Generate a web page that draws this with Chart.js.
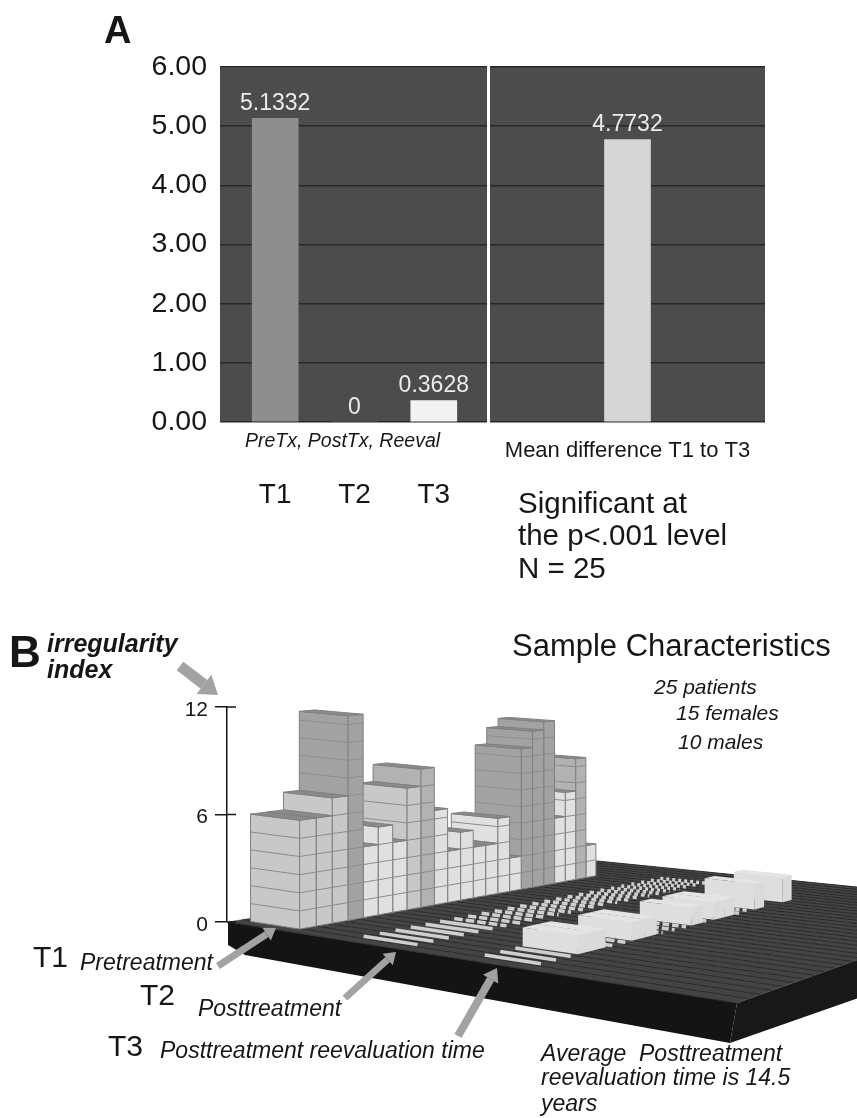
<!DOCTYPE html>
<html>
<head>
<meta charset="utf-8">
<title>Irregularity index</title>
<script src="https://cdn.jsdelivr.net/npm/chart.js@4"></script>
<style>
  html, body { margin: 0; padding: 0; background: #fff; }
  body { position: relative; width: 857px; height: 1118px; overflow: hidden; font-family: "Liberation Sans", Arial, sans-serif; color: #161616; }
  canvas { position: absolute; filter: blur(0.5px); }
  .t { position: absolute; white-space: nowrap; line-height: 1; }
  .i { font-style: italic; }
</style>
</head>
<body>
<div style="position:absolute;left:0;top:37px;width:487px;height:483px"><canvas id="chartA1"></canvas></div>
<div style="position:absolute;left:490px;top:40px;width:275px;height:480px"><canvas id="chartA2"></canvas></div>
<div style="position:absolute;left:0;top:600px;width:857px;height:518px"><canvas id="chartB"></canvas></div>

<div class="t" style="left:104px;top:11px;font-size:38px;font-weight:bold">A</div>
<div class="t i" style="left:245px;top:431px;font-size:19.5px">PreTx, PostTx, Reeval</div>
<div class="t" style="left:518px;top:488px;font-size:29.5px">Significant at</div>
<div class="t" style="left:518px;top:520px;font-size:29.5px">the p&lt;.001 level</div>
<div class="t" style="left:518px;top:553px;font-size:29.5px">N = 25</div>

<div class="t" style="left:9px;top:630px;font-size:44px;font-weight:bold">B</div>
<div class="t i" style="left:47px;top:630px;font-size:25px;font-weight:bold;line-height:26px">irregularity<br>index</div>
<div class="t" style="left:512px;top:630px;font-size:31px">Sample Characteristics</div>
<div class="t i" style="left:654px;top:676px;font-size:21px">25 patients</div>
<div class="t i" style="left:676px;top:702px;font-size:21px">15 females</div>
<div class="t i" style="left:678px;top:731px;font-size:21px">10 males</div>
<div class="t" style="left:33px;top:942px;font-size:30px">T1</div>
<div class="t i" style="left:80px;top:951px;font-size:23px">Pretreatment</div>
<div class="t" style="left:140px;top:980px;font-size:30px">T2</div>
<div class="t i" style="left:198px;top:997px;font-size:23px">Posttreatment</div>
<div class="t" style="left:108px;top:1031px;font-size:30px">T3</div>
<div class="t i" style="left:160px;top:1039px;font-size:23px">Posttreatment reevaluation time</div>
<div class="t i" style="left:541px;top:1042px;font-size:23px">Average&nbsp; Posttreatment</div>
<div class="t i" style="left:541px;top:1066px;font-size:23px">reevaluation time is 14.5</div>
<div class="t i" style="left:541px;top:1092px;font-size:23px">years</div>

<script>
// panel A
const timeLabels = ['T1', 'T2', 'T3'];
const timeValues = [5.1332, 0, 0.3628];
const diffLabels = ['Mean difference T1 to T3'];
const diffValues = [4.7732];
const yTicksA = [0, 1, 2, 3, 4, 5, 6];

const patients = [1, 2, 3, 4, 5, 6, 7, 8, 9, 10, 11, 12, 13, 14, 15, 16, 17, 18, 19, 20, 21, 22, 23, 24, 25];
const indexT1 = [6, 6, 7, 11.5, 4, 5, 4, 7, 8, 5.5, 3, 4, 3, 3, 4.5, 2, 8.5, 9.5, 10, 4, 5.5, 7.5, 2, 0, 0];
const indexT2 = [0, 0, 0, 0, 0, 0, 0, 0, 0, 0, 0, 0, 0, 0, 0, 0, 0, 0, 0, 0, 0, 0, 0, 0, 0];
const indexT3 = [0, 0, 0, 1, 1, 0, 0, 1, 1, 0, 0, 0, 1, 0, 1, 1, 0, 0, 1.5, 0, 0, 1.5, 0, 0, 0];
const yTicksB = [0, 6, 12];

const panelBg = {
  id: 'panelBg',
  beforeDraw(chart) {
    const a = chart.chartArea;
    chart.ctx.fillStyle = '#4c4c4c';
    chart.ctx.fillRect(a.left, a.top, a.width, a.height);
  }
};

const valueLabels = {
  id: 'valueLabels',
  afterDatasetsDraw(chart) {
    const ctx = chart.ctx;
    const ds = chart.data.datasets[0];
    ctx.save();
    ctx.font = '23px "Liberation Sans"';
    ctx.textAlign = 'center';
    ctx.textBaseline = 'bottom';
    ctx.fillStyle = '#ececec';
    chart.getDatasetMeta(0).data.forEach((bar, i) => {
      const v = ds.data[i].y !== undefined ? ds.data[i].y : ds.data[i];
      ctx.fillText(String(v), bar.x, bar.y - 3);
    });
    ctx.restore();
  }
};

function yAxisA(showLabels) {
  return {
    min: 0, max: 6,
    afterBuildTicks: s => { s.ticks = yTicksA.map(v => ({ value: v })); },
    afterFit: s => { s.width = showLabels ? 220 : 0; },
    border: { display: false },
    grid: { color: '#282828', lineWidth: 1.5, drawTicks: false },
    ticks: {
      display: showLabels,
      padding: 13,
      color: '#161616',
      font: { size: 28.5, family: '"Liberation Sans"' },
      callback: v => Number(v).toFixed(2)
    }
  };
}

new Chart(document.getElementById('chartA1'), {
  type: 'bar',
  data: {
    datasets: [{
      data: timeValues.map((v, i) => ({ x: i, y: v })),
      backgroundColor: ['#8e8e8e', '#8e8e8e', '#f2f2f2'],
      barThickness: 46
    }]
  },
  options: {
    animation: false,
    responsive: true,
    maintainAspectRatio: false,
    layout: { padding: { top: 30 } },
    plugins: { legend: { display: false }, tooltip: { enabled: false } },
    scales: {
      x: {
        type: 'linear', min: -0.696, max: 2.671,
        offset: false,
        afterBuildTicks: s => { s.ticks = timeLabels.map((l, i) => ({ value: i })); },
        afterFit: s => { s.height = 98; s.paddingLeft = 0; s.paddingRight = 0; },
        grid: { display: false },
        border: { display: false },
        ticks: {
          padding: 48,
          color: '#161616',
          maxRotation: 0,
          font: { size: 28, family: '"Liberation Sans"' },
          callback: v => timeLabels[v]
        }
      },
      y: yAxisA(true)
    }
  },
  plugins: [panelBg, valueLabels]
});

new Chart(document.getElementById('chartA2'), {
  type: 'bar',
  data: {
    labels: diffLabels,
    datasets: [{ data: diffValues, backgroundColor: '#d6d6d6', barThickness: 46 }]
  },
  options: {
    animation: false,
    responsive: true,
    maintainAspectRatio: false,
    layout: { padding: { top: 27 } },
    plugins: { legend: { display: false }, tooltip: { enabled: false } },
    scales: {
      x: {
        afterFit: s => { s.height = 98; },
        grid: { display: false },
        border: { display: false },
        ticks: {
          padding: 8,
          color: '#161616',
          maxRotation: 0,
          font: { size: 22, family: '"Liberation Sans"' }
        }
      },
      y: yAxisA(false)
    }
  },
  plugins: [panelBg, valueLabels]
});

// panel B: floor camera. Floor corners on the canvas, square to quad
const floorO = [228, 322], floorB = [597, 261], floorR = [1016, 303], floorF = [737, 403];
const camera = (() => {
  const [x0, y0] = floorO, [x1, y1] = floorB, [x2, y2] = floorR, [x3, y3] = floorF;
  const dx1 = x1 - x2, dx2 = x3 - x2, sx = x0 - x1 + x2 - x3;
  const dy1 = y1 - y2, dy2 = y3 - y2, sy = y0 - y1 + y2 - y3;
  const den = dx1 * dy2 - dx2 * dy1;
  const g = (sx * dy2 - dx2 * sy) / den, h = (dx1 * sy - sx * dy1) / den;
  return { a: x1 - x0 + g * x1, b: x3 - x0 + h * x3, c: x0, d: y1 - y0 + g * y1, e: y3 - y0 + h * y3, f: y0, g, h };
})();

const rowBands = [[0.025, 0.146], [0.276, 0.394], [0.532, 0.64]];

function project(chart, u, v, z) {
  const m = camera, w = m.g * u + m.h * v + 1;
  const yS = chart.scales.y;
  const lift = (yS.getPixelForValue(0) - yS.getPixelForValue(z)) / Math.sqrt(w);
  return [(m.a * u + m.b * v + m.c) / w, (m.d * u + m.e * v + m.f) / w - lift];
}

function poly(ctx, pts, fill, stroke) {
  ctx.beginPath();
  pts.forEach((p, i) => i ? ctx.lineTo(p[0], p[1]) : ctx.moveTo(p[0], p[1]));
  ctx.closePath();
  if (fill) { ctx.fillStyle = fill; ctx.fill(); }
  if (stroke) { ctx.strokeStyle = stroke; ctx.stroke(); }
}

function blockShade(z) {
  if (z > 8.2) return '#a2a2a2';
  if (z > 7.2) return '#b2b2b2';
  if (z > 5.8) return '#c8c8c8';
  return '#e0e0e0';
}

function drawFloor(chart) {
  const ctx = chart.ctx;
  const P = (u, v) => project(chart, u, v, 0);
  poly(ctx, [floorO, floorF, [730, 443], [245, 355], [228, 345]], '#141414');
  poly(ctx, [floorF, floorR, [1016, 343], [730, 443]], '#181818');
  poly(ctx, [floorO, floorB, floorR, floorF], '#444444');
  ctx.lineWidth = 1;
  ctx.strokeStyle = '#2a2a2a';
  for (let i = 0; i <= 34; i++) {
    const a = P(i / 34, 0), b = P(i / 34, 1);
    ctx.beginPath(); ctx.moveTo(a[0], a[1]); ctx.lineTo(b[0], b[1]); ctx.stroke();
  }
  ctx.strokeStyle = 'rgba(70,70,70,0.5)';
  for (let j = 0; j <= 50; j++) {
    const a = P(0, j / 50), b = P(1, j / 50);
    ctx.beginPath(); ctx.moveTo(a[0], a[1]); ctx.lineTo(b[0], b[1]); ctx.stroke();
  }
}

function drawBlock(chart, u0, u1, v0, v1, z, soft) {
  const ctx = chart.ctx;
  const P = (u, v, h) => project(chart, u, v, h);
  const base = blockShade(z);
  const edge = soft ? null : '#808080';
  ctx.lineWidth = 1;
  poly(ctx, [P(u0, v1, 0), P(u1, v1, 0), P(u1, v1, z), P(u0, v1, z)], soft ? '#dadada' : base, edge);
  poly(ctx, [P(u0, v0, 0), P(u0, v1, 0), P(u0, v1, z), P(u0, v0, z)], soft ? '#dedede' : base, edge);
  poly(ctx, [P(u0, v0, z), P(u0, v1, z), P(u1, v1, z), P(u1, v0, z)], soft ? '#e4e4e4' : '#8a8a8a', edge);
  if (soft) return;
  ctx.strokeStyle = '#8c8c8c';
  for (let h = 1; h < z; h++) {
    const a = P(u0, v0, h), b = P(u0, v1, h), c = P(u1, v1, h);
    ctx.beginPath(); ctx.moveTo(a[0], a[1]); ctx.lineTo(b[0], b[1]); ctx.lineTo(c[0], c[1]); ctx.stroke();
  }
}

function drawStrip(chart, u, v0, v1, back) {
  const ctx = chart.ctx;
  const a = project(chart, u, v0, 0), b = project(chart, u, v1, 0);
  ctx.save();
  ctx.strokeStyle = '#cfcfcf';
  ctx.lineWidth = 3.5;
  if (back > 0) ctx.setLineDash([Math.max(3, 9 - back * 0.4), 3]);
  ctx.beginPath(); ctx.moveTo(a[0], a[1]); ctx.lineTo(b[0], b[1]); ctx.stroke();
  ctx.restore();
}

function arrow(ctx, x0, y0, x1, y1, w) {
  const ang = Math.atan2(y1 - y0, x1 - x0);
  const hx = x1 - Math.cos(ang) * w * 1.6, hy = y1 - Math.sin(ang) * w * 1.6;
  ctx.save();
  ctx.strokeStyle = '#a2a2a2';
  ctx.fillStyle = '#a2a2a2';
  ctx.lineWidth = w;
  ctx.beginPath(); ctx.moveTo(x0, y0); ctx.lineTo(hx, hy); ctx.stroke();
  ctx.beginPath();
  ctx.moveTo(x1, y1);
  ctx.lineTo(hx - Math.sin(ang) * w * 1.1, hy + Math.cos(ang) * w * 1.1);
  ctx.lineTo(hx + Math.sin(ang) * w * 1.1, hy - Math.cos(ang) * w * 1.1);
  ctx.closePath();
  ctx.fill();
  ctx.restore();
}

const blocks3d = {
  id: 'blocks3d',
  beforeDatasetsDraw(chart) {
    const ctx = chart.ctx;
    const xS = chart.scales.x;
    const decU = p => (xS.getPixelForValue(p) - xS.left) / xS.width;
    ctx.save();
    drawFloor(chart);
    chart.data.datasets.forEach((ds, r) => {
      const [v0, v1] = rowBands[r];
      for (let i = ds.data.length - 1; i >= 0; i--) {
        const pt = ds.data[i];
        const u0 = decU(pt.x), u1 = decU(pt.x + 1);
        if (pt.y > 0) drawBlock(chart, u0, u1, v0, v1, pt.y, r === 2);
        else if (r === 1 || (r === 2 && i < 19)) drawStrip(chart, (u0 + u1) / 2, v0, v1, i - 5);
      }
    });
    // tick marks also cross to the right of the axis
    const yS = chart.scales.y;
    ctx.strokeStyle = '#161616';
    ctx.lineWidth = 1.5;
    yS.ticks.forEach(t => {
      const y = yS.getPixelForValue(t.value);
      ctx.beginPath(); ctx.moveTo(yS.right, y); ctx.lineTo(yS.right + 9, y); ctx.stroke();
    });
    ctx.restore();
  },
  afterDraw(chart) {
    const ctx = chart.ctx;
    arrow(ctx, 180, 66, 218, 95, 11);
    arrow(ctx, 218, 366, 276, 328, 7);
    arrow(ctx, 345, 398, 396, 352, 7);
    arrow(ctx, 458, 436, 497, 368, 8);
  }
};

new Chart(document.getElementById('chartB'), {
  type: 'scatter',
  data: {
    datasets: [indexT1, indexT2, indexT3].map((vals, r) => ({
      label: timeLabels[r],
      data: vals.map((v, i) => ({ x: patients[i], y: v })),
      pointRadius: 0
    }))
  },
  options: {
    animation: false,
    responsive: true,
    maintainAspectRatio: false,
    layout: { padding: { top: 107, bottom: 196 } },
    plugins: { legend: { display: false }, tooltip: { enabled: false } },
    scales: {
      x: { type: 'linear', min: 0.25, max: 29.65, display: false },
      y: {
        min: 0, max: 12,
        afterBuildTicks: s => { s.ticks = yTicksB.map(v => ({ value: v })); },
        afterFit: s => { s.width = 227; },
        border: { color: '#161616', width: 1.5 },
        grid: { drawOnChartArea: false, color: '#161616', lineWidth: 1.5, tickLength: 12 },
        ticks: {
          padding: 7,
          labelOffset: 3,
          color: '#161616',
          font: { size: 21, family: '"Liberation Sans"' }
        }
      }
    }
  },
  plugins: [blocks3d]
});
</script>
</body>
</html>
